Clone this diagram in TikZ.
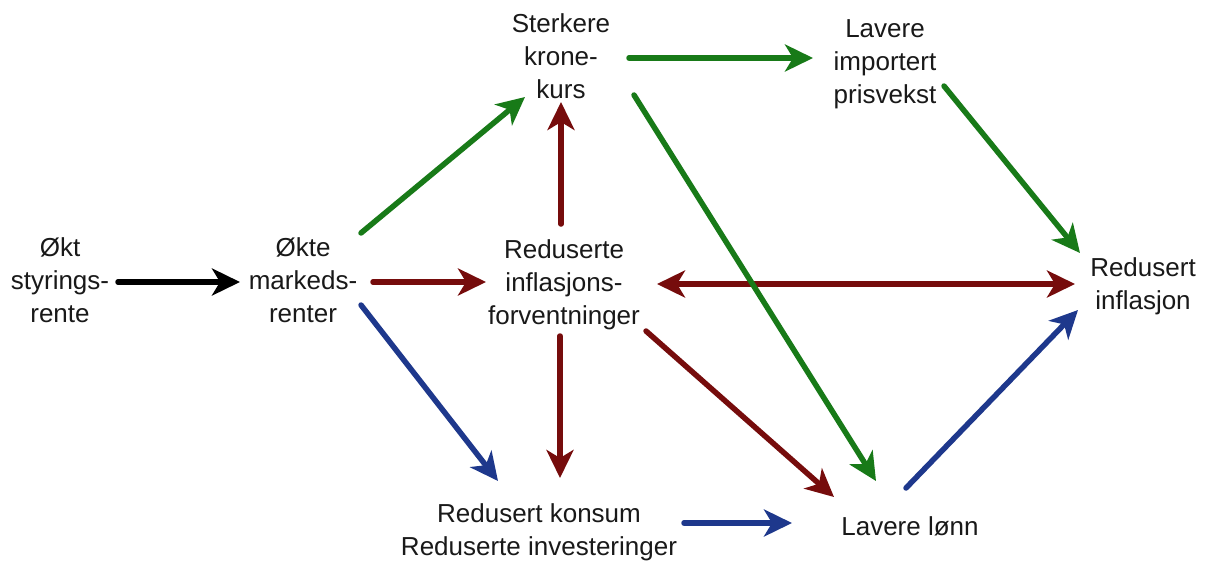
\documentclass[tikz,border=0pt]{standalone}
\usepackage{fontspec}
\setmainfont{Liberation Sans}
\usetikzlibrary{arrows.meta}
\definecolor{cgreen}{RGB}{24,122,24}
\definecolor{cred}{RGB}{118,12,12}
\definecolor{cblue}{RGB}{30,56,140}
\tikzset{
  lbl/.style={align=center,inner sep=0pt,font=\fontsize{26}{33}\selectfont,text=black!90},
  tipx/.tip={Stealth[length=28pt,width=27pt,inset=8pt]},
  arr/.style={line width=5.5pt,line cap=round,-tipx},
  darr/.style={line width=5.5pt,tipx-tipx},
  ablack/.style={arr,draw=black},
  agreen/.style={arr,draw=cgreen,fill=cgreen},
  ared/.style={arr,draw=cred,fill=cred},
  ablue/.style={arr,draw=cblue,fill=cblue}
}
\begin{document}
\begin{tikzpicture}[x=1pt,y=-1pt]
\useasboundingbox[fill=white] (0,0) rectangle (1205,563);
\node[lbl] (okt) at (60,280) {Økt\\styrings-\\rente};
\node[lbl] (okte) at (303,280) {Økte\\markeds-\\renter};
\node[lbl] (sterk) at (561,56) {Sterkere\\krone-\\kurs};
\node[lbl] (lavimp) at (885,64) {Lavere\\importert\\prisvekst};
\node[lbl] (redinf) at (564,285) {Reduserte\\inflasjons-\\forventninger};
\node[lbl] (redusert) at (1143,286) {Redusert\\inflasjon};
\node[lbl] (konsum) at (539,532) {Redusert konsum\\Reduserte investeringer};
\node[lbl] (lonn) at (910,526) {Lavere lønn};

\draw[ablack] ([shift={(58,2)}]okt.center) -- ([shift={(-63,2)}]okte.center);
\draw[agreen] ([shift={(58,-47)}]okte.center) -- ([shift={(-36,41)}]sterk.center);
\draw[ared] ([shift={(70,2)}]okte.center) -- ([shift={(-78,-3)}]redinf.center);
\draw[ablue] ([shift={(58,25)}]okte.center) -- ([shift={(-41,-51)}]konsum.center);
\draw[ared] ([shift={(-3,-61)}]redinf.center) -- ([shift={(0,46)}]sterk.center);
\draw[ared] ([shift={(-4,51)}]redinf.center) -- ([shift={(21,-54)}]konsum.center);
\draw[darr,draw=cred,fill=cred] ([shift={(93,-1)}]redinf.center) -- ([shift={(-68,-2)}]redusert.center);
\draw[ared] ([shift={(82,46)}]redinf.center) -- ([shift={(-76,-29)}]lonn.center);
\draw[agreen] ([shift={(68,2)}]sterk.center) -- ([shift={(-72,-6)}]lavimp.center);
\draw[agreen] ([shift={(73,39)}]sterk.center) -- ([shift={(-34,-45)}]lonn.center);
\draw[agreen] ([shift={(59,22)}]lavimp.center) -- ([shift={(-63,-33)}]redusert.center);
\draw[ablue] ([shift={(145,-9)}]konsum.center) -- ([shift={(-118,-3)}]lonn.center);
\draw[ablue] ([shift={(-4,-38)}]lonn.center) -- ([shift={(-65,24)}]redusert.center);
\end{tikzpicture}
\end{document}
